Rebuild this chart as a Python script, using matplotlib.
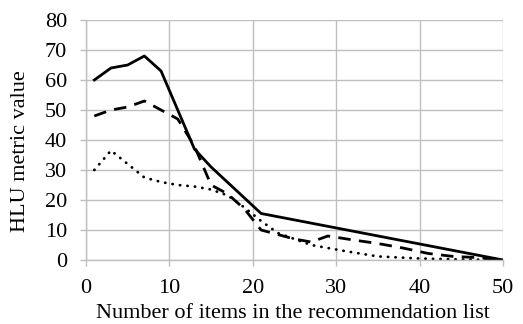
import matplotlib.pyplot as plt

# values
solid_x = [1, 3, 5, 7, 9, 13, 15, 21, 50]
solid_y = [60, 64, 65, 68, 63, 37, 31, 15.5, 0]

dashed_x = [1, 3, 5, 7, 9, 11, 13, 15, 17, 19, 21, 23, 25, 27, 29, 32, 35, 38, 41, 44, 47, 50]
dashed_y = [48, 50, 51, 53, 50, 47, 38, 25, 22, 17, 10, 8.5, 7, 6, 8, 6.7, 5.5, 4, 2.2, 1.2, 0.8, 0]

dotted_x = [1, 3, 5, 7, 9, 11, 13, 15, 17, 19, 21, 23, 25, 27, 29, 31, 35, 40, 45, 50]
dotted_y = [30, 36.5, 32, 27.5, 26, 25, 24.5, 23.5, 21.5, 17.5, 13, 9, 7, 5, 4, 3, 1.2, 0.5, 0.2, 0]

x_ticks = [0, 10, 20, 30, 40, 50]
y_ticks = [0, 10, 20, 30, 40, 50, 60, 70, 80]

plt.rcParams["font.family"] = ["Liberation Serif", "DejaVu Serif"]
grid_color = "#bfbfbf"

fig = plt.figure(figsize=(5.23, 3.24), dpi=100)
ax = fig.add_axes([0.1644, 0.1975, 0.7974, 0.7408])

ax.plot(solid_x, solid_y, color="black", linewidth=2.0, linestyle="-")
ax.plot(dashed_x, dashed_y, color="black", linewidth=2.0, dashes=(4.5, 3.0))
ax.plot(dotted_x, dotted_y, color="black", linewidth=2.0, dashes=(0.1, 2.6),
        dash_capstyle="round")

ax.set_xlim(0, 50)
ax.set_ylim(0, 80)
ax.set_xticks(x_ticks)
ax.set_yticks(y_ticks)
ax.grid(True, color=grid_color, linewidth=1.0)
ax.set_axisbelow(True)
for side in ["top", "right"]:
    ax.spines[side].set_visible(False)
for side in ["left", "bottom"]:
    ax.spines[side].set_color(grid_color)
    ax.spines[side].set_linewidth(1.0)
ax.tick_params(axis="both", color=grid_color, length=4.5, width=1.0, labelsize=16, pad=9)

ax.set_xlabel("Number of items in the recommendation list", fontsize=16, va="baseline")
ax.xaxis.set_label_coords(0.496, -0.242)
ax.set_ylabel("HLU metric value", fontsize=16, va="baseline")
ax.yaxis.set_label_coords(-0.146, 0.454)

fig.savefig("out.png", dpi=100)
